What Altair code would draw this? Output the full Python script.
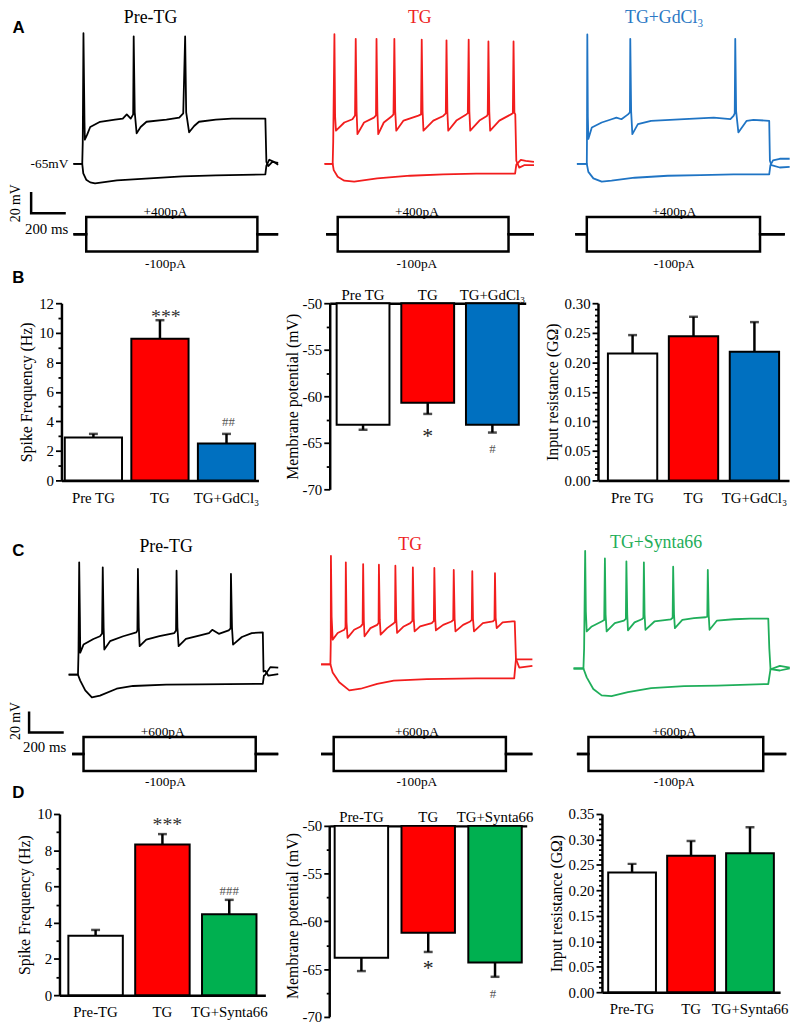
import altair as alt
import pandas as pd

FONT = "Liberation Serif"
SANS = "Liberation Sans"

# ---------------- membrane-potential traces (time: ms from step onset, voltage: mV) ----------------
# Row A (+400 pA / -100 pA)
A1_dep_t = [-51, 0, 3, 7, 13, 15, 29, 46, 103, 189, 234, 257, 280, 294, 297, 303, 314, 337, 371, 486,
            560, 583, 594, 600, 617, 646, 674, 771, 863, 977, 1057, 1063, 1074, 1097, 1131]
A1_dep_v = [-65, -65, -44, 59, -25, -42, -37, -30, -25, -23, -22, -18, -22, -18, 56, -16, -36, -30, -25, -23,
            -21, -17, 56, -16, -35, -29, -25, -23, -22, -22, -22, -63, -67, -63, -64]
A1_hyp_t = [-51, 0, 6, 23, 46, 74, 200, 389, 577, 771, 1057, 1063, 1080, 1103, 1131]
A1_hyp_v = [-65, -65, -74, -80, -82.5, -83.4, -80.6, -78.7, -76.9, -75.9, -75, -66.6, -61, -62.8, -65.7]

A2_dep_t = [-47, 0, 3, 10, 14, 19, 67, 114, 129, 133, 138, 143, 181, 238, 250, 253, 258, 263, 295, 343,
            351, 356, 361, 367, 409, 495, 510, 514, 519, 524, 581, 638, 653, 657, 662, 667, 714, 771, 780, 785,
            789, 794, 847, 890, 895, 899, 904, 909, 962, 1029, 1040, 1044, 1049, 1054, 1060, 1077, 1105, 1162]
A2_dep_v = [-65, -65, -44, 58, -20, -33.5, -25.7, -22.6, -19, 53.7, -15, -36.7, -25.7, -21.1, -19, 53.7, -15, -36.7, -25.7, -19.5,
            -18, 53.7, -15, -33.5, -23.9, -19.2, -18, 53, -15, -33.5, -23.9, -19.5, -17, 52.2, -15, -33.5, -23.9, -18, -17, 53,
            -15, -33.5, -23.9, -19.5, -18, 51.2, -15, -33.5, -23.9, -18, -17, 51.2, -16.4, -18, -62, -68.5, -66.2, -66.2]
A2_hyp_t = [-47, 0, 6, 29, 67, 124, 257, 447, 638, 829, 1053, 1060, 1086, 1114, 1162]
A2_hyp_v = [-65, -65, -70.9, -77.2, -80.9, -81.8, -78.7, -76.2, -75, -74.1, -74.1, -65.6, -61.1, -62.1, -63.1]

A3_dep_t = [-57, 0, 1, 3, 6, 9, 29, 86, 143, 171, 200, 238, 249, 251, 256, 263, 295, 371, 562, 733,
            829, 847, 854, 857, 862, 875, 923, 962, 1053, 1057, 1066, 1114, 1171]
A3_dep_v = [-65, -65, -44, 57.8, -20, -41.3, -30.4, -25.7, -22.6, -21.1, -22.6, -18, -16, 53.7, -15, -36.7, -27.3, -24.1, -22.6, -21.1,
            -22.6, -19.5, -17, 53.7, -15, -35.1, -24.1, -23.2, -24.1, -62, -66.2, -68.4, -67.8]
A3_hyp_t = [-57, 0, 9, 38, 86, 143, 276, 467, 657, 847, 1053, 1060, 1075, 1114, 1171]
A3_hyp_v = [-65, -65, -72.5, -78.7, -81.8, -80.9, -78.1, -76.2, -75.6, -75, -75, -66.2, -61.6, -60.1, -60.1]

# Row C (+600 pA / -100 pA)
C1_dep_t = [-54, 0, 3, 7, 11, 13, 32, 89, 127, 139, 143, 148, 152, 185, 261, 337, 343, 346, 351, 356,
            394, 470, 556, 566, 569, 574, 581, 623, 699, 756, 775, 813, 870, 881, 883, 889, 895, 946, 1003, 1067,
            1071, 1081, 1099, 1156]
C1_dep_v = [-65, -65, -44, 41.6, -10, -44.1, -36.4, -31.1, -28.5, -26, 36.9, -20, -41.1, -33.2, -28.5, -24.8, -23, 35.3, -20, -37.9,
            -31.7, -28.5, -25.5, -23, 33.7, -20, -37.9, -31.1, -28, -25.5, -22.4, -26.2, -22.9, -21, 30.7, -20, -36.4, -29.2, -25.5, -24.8,
            -62, -61.3, -65.9, -64.4]
C1_hyp_t = [-54, 0, 13, 42, 80, 127, 223, 318, 509, 699, 1067, 1073, 1081, 1110, 1156]
C1_hyp_v = [-65, -65, -70.6, -79.9, -86.4, -84.8, -78.3, -75.7, -74.5, -74.2, -73.7, -66, -65, -57.8, -58.3]

C2_dep_t = [-54, 0, 2, 3, 7, 13, 42, 80, 87, 89, 93, 99, 137, 175, 186, 189, 193, 197, 231, 270,
            278, 280, 285, 290, 327, 366, 373, 375, 380, 385, 423, 461, 473, 476, 481, 486, 518, 585, 597, 600,
            605, 609, 651, 699, 709, 712, 717, 722, 766, 807, 816, 819, 823, 829, 880, 937, 947, 950, 954, 960,
            994, 1051, 1064, 1071, 1090, 1166]
C2_dep_v = [-55.1, -55.1, -35, 47.8, -10, -31.7, -25.4, -22.4, -20, 41.6, -15, -30.1, -22.4, -19.2, -17, 40, -14, -28.5, -20.8, -17.7,
            -16, 39.3, -13, -27, -20.8, -16.1, -15, 38.4, -12, -25.4, -19.2, -16.1, -14, 36.9, -12, -23.9, -19.2, -16.1, -14, 36.3,
            -12, -22.9, -17.7, -14.5, -13, 34.4, -12, -23.9, -17.7, -14.5, -13, 33.2, -12, -23.9, -16.1, -14.5, -13, 31.3, -11, -20.8,
            -15.4, -14.5, -14.5, -50, -58.2, -56.6]
C2_hyp_t = [-54, 0, 13, 51, 109, 175, 270, 366, 556, 842, 1061, 1071, 1166]
C2_hyp_v = [-55.1, -55.1, -62.8, -72.2, -79.9, -78.3, -73.7, -70.6, -69.1, -68.5, -68.5, -50.4, -50.4]

C3_dep_t = [-57, 0, 4, 10, 14, 19, 48, 105, 120, 124, 128, 134, 181, 234, 245, 248, 253, 257, 295, 337,
            346, 349, 353, 358, 410, 505, 515, 518, 523, 528, 571, 638, 705, 715, 718, 723, 728, 771, 867, 962,
            1067, 1073, 1080, 1134, 1191]
C3_dep_v = [-59.1, -59.1, -40, 52.4, -5, -23.9, -19.2, -14.5, -13, 45.3, -8, -23.9, -16.1, -13.6, -12, 42.5, -8, -22.9, -15.4, -12.4,
            -11, 41.6, -8, -22.4, -14.5, -12.4, -11, 37.5, -8, -20.8, -13, -11.4, -10.5, -10, 34.4, -8, -22.4, -13.6, -12.4, -11.7,
            -11.7, -40, -59.8, -61, -59.1]
C3_hyp_t = [-57, 0, 19, 57, 105, 162, 257, 391, 581, 771, 1067, 1080, 1134, 1191]
C3_hyp_v = [-59.1, -59.1, -67.5, -78.5, -84.6, -85.3, -81.5, -77.8, -75.9, -75.3, -73.8, -59.8, -56.6, -58.2]

# current-step protocol: line start, step on, step off, line end (ms); step amplitudes (pA)
A1_stim_t = [-51, 23, 1011, 1131]
A2_stim_t = [-38, 29, 1015, 1162]
A3_stim_t = [-67, 0, 1000, 1143]
C1_stim_t = [-34, 32, 1026, 1156]
C2_stim_t = [-54, 19, 1013, 1166]
C3_stim_t = [-38, 29, 1038, 1171]
STEPS_A = [400, -100]
STEPS_C = [600, -100]
SCALEBAR_MS = 200
SCALEBAR_MV = 20

# ---------------- summary bar data ----------------
groups_B = ["Pre TG", "TG", "TG+GdCl₃"]
spike_B = [2.9, 9.6, 2.5]
spike_B_err = [0.25, 1.25, 0.65]
spike_B_sig = ["", "***", "##"]
vm_B = [-63.05, -60.7, -63.05]
vm_B_err = [0.55, 1.2, 0.85]
vm_B_sig = ["", "*", "#"]
rin_B = [0.215, 0.244, 0.218]
rin_B_err = [0.031, 0.033, 0.05]

groups_D = ["Pre-TG", "TG", "TG+Synta66"]
spike_D = [3.28, 8.32, 4.46]
spike_D_err = [0.32, 0.57, 0.8]
spike_D_sig = ["", "***", "###"]
vm_D = [-63.8, -61.2, -64.3]
vm_D_err = [1.4, 2.0, 1.5]
vm_D_sig = ["", "*", "#"]
rin_D = [0.235, 0.268, 0.273]
rin_D_err = [0.017, 0.029, 0.051]

fills_B = ["#ffffff", "#ff0000", "#0070c0"]
fills_D = ["#ffffff", "#ff0000", "#00b050"]
TRACE_BLACK = "#000000"
TRACE_RED = "#f21d1d"
TRACE_BLUE = "#1f74c4"
TRACE_GREEN = "#1fae5a"
TITLE_RED = "#ee2222"
TITLE_BLUE = "#2a78c4"
TITLE_GREEN = "#22ad58"

# ---------------- layout (page pixels) ----------------
PX_MS = 0.175
PX_MV = 1.065
COLS = [(8, 300), (300, 560), (560, 792)]
A_TOP, A_H, A_BASE = 8, 276, 162.3
C_TOP, C_H, C_BASE = 503, 301, 672.3
A_X0 = [82, 335, 591.7]
C_X0 = [77.7, 332.7, 588.3]
A_STIM_Y = (250.7, 233.3, 216.0)
C_STIM_Y = (769.5, 752.5, 735.3)

ONE = pd.DataFrame({"k": [0]})


def text_mark(txt, x, y, size=15, color="black", font=FONT, weight="normal",
              align="center", baseline="middle", angle=0):
    kw = dict(text=txt, fontSize=size, color=color, font=font, fontWeight=weight,
              align=align, baseline=baseline)
    if angle:
        kw["angle"] = angle
    return alt.Chart(ONE).mark_text(**kw).encode(x=alt.value(x), y=alt.value(y))


def trace_panel(col, x0, top, height, base, dep_t, dep_v, hyp_t, hyp_v, stim_t, steps,
                stim_y, color, texts, scalebar=None):
    left, right = COLS[col]
    width = right - left
    tdom = [(left - x0) / PX_MS, (right - x0) / PX_MS]
    vdom = [-65 - (top + height - base) / PX_MV, -65 + (base - top) / PX_MV]
    xe = alt.X("t:Q", scale=alt.Scale(domain=tdom, nice=False, zero=False), axis=None)
    ye = alt.Y("v:Q", scale=alt.Scale(domain=vdom, nice=False, zero=False), axis=None)
    df = pd.DataFrame({
        "t": list(dep_t) + list(hyp_t),
        "v": list(dep_v) + list(hyp_v),
        "s": ["dep"] * len(dep_t) + ["hyp"] * len(hyp_t),
        "i": list(range(len(dep_t))) + list(range(len(hyp_t))),
    })
    layers = [alt.Chart(df).mark_line(color=color, strokeWidth=1.8, strokeJoin="round").encode(
        x=xe, y=ye, detail="s:N", order="i:Q")]
    rows = []
    for k, amp in enumerate(steps):
        pts = [(stim_t[0], 0), (stim_t[1], 0), (stim_t[1], amp), (stim_t[2], amp),
               (stim_t[2], 0), (stim_t[3], 0)]
        rows += [{"t": a, "a": b, "s": k, "i": j} for j, (a, b) in enumerate(pts)]
    sdf = pd.DataFrame(rows)
    rng = [p - top for p in stim_y]
    layers.append(alt.Chart(sdf).mark_line(color="black", strokeWidth=2.5).encode(
        x=xe,
        y=alt.Y("a:Q", scale=alt.Scale(domain=[min(steps), 0, max(steps)], range=rng,
                                       nice=False, zero=False), axis=None),
        detail="s:N", order="i:Q"))
    if scalebar:
        bt, bv = scalebar
        bdf = pd.DataFrame({"t": [bt, bt, bt + SCALEBAR_MS],
                            "v": [bv + SCALEBAR_MV, bv, bv], "i": [0, 1, 2]})
        layers.append(alt.Chart(bdf).mark_line(color="black", strokeWidth=2.5).encode(
            x=xe, y=ye, order="i:Q"))
    for txt, px, py, kw in texts:
        layers.append(text_mark(txt, px - left, py - top, **kw))
    return alt.layer(*layers).resolve_scale(y="independent").properties(width=width, height=height)


def yaxis(values, major, label_expr, title, title_pad, domain=True):
    return alt.Axis(values=values, labelExpr=label_expr,
                    tickSize={"condition": {"test": major, "value": 6}, "value": 3.5},
                    tickWidth=1.8, tickColor="black", domain=domain, domainWidth=2.5,
                    domainColor="black", labelFont=FONT, labelFontSize=15, labelColor="black",
                    labelPadding=2, labelOverlap=False, labelFlush=False, grid=False,
                    title=title, titleFont=FONT, titleFontSize=16, titleFontWeight="normal",
                    titleColor="black", titlePadding=title_pad)


def xaxis(orient, offset=0):
    kw = dict(title=None, orient=orient, labelAngle=0, ticks=False, tickSize=0,
              domainWidth=2.5, domainColor="black", labelFont=FONT, labelFontSize=15,
              labelColor="black", labelPadding=10 if orient == "bottom" else 1,
              labelOverlap=False, grid=False)
    if offset:
        kw["offset"] = offset
    return alt.Axis(**kw)


def bar_panel(groups, vals, errs, fills, width, height, ydom, yvals, major, label_expr,
              title, title_pad, pi, po, sigs=None, sig_style=None, hanging=False, top_offset=0):
    sign = -1 if hanging else 1
    df = pd.DataFrame({"g": groups, "v": vals,
                       "end": [v + sign * e for v, e in zip(vals, errs)], "c": fills})
    xe = alt.X("g:N", sort=groups, scale=alt.Scale(paddingInner=pi, paddingOuter=po),
               axis=xaxis("top" if hanging else "bottom", -top_offset))

    def ye(field):
        return alt.Y(field, scale=alt.Scale(domain=ydom, nice=False, zero=False),
                     axis=yaxis(yvals, major, label_expr, title, title_pad, domain=not top_offset))

    base = alt.Chart(df)
    enc = dict(x=xe, y=ye("v:Q"), fill=alt.Fill("c:N", scale=None))
    if hanging:
        enc["y2"] = alt.datum(-50)
    layers = [base.mark_bar(stroke="black", strokeWidth=2).encode(**enc),
              base.mark_rule(color="black", strokeWidth=2.5).encode(x=xe, y=ye("v:Q"), y2="end:Q"),
              base.mark_tick(color="black", thickness=2.5, size=9).encode(x=xe, y=ye("end:Q"))]
    if top_offset:
        adf = pd.DataFrame({"a": [ydom[0]], "b": [-50]})
        layers.append(alt.Chart(adf).mark_rule(color="black", strokeWidth=2.5).encode(
            x=alt.value(0), y=ye("a:Q"), y2="b:Q"))
    if sigs:
        for i, s in enumerate(sigs):
            if not s:
                continue
            size, color, dx, dy = sig_style[i]
            sdf = df.iloc[[i]]
            layers.append(alt.Chart(sdf).mark_text(
                text=s, fontSize=size, color=color, font=FONT, dx=dx, dy=dy,
                baseline="alphabetic", align="center").encode(x=xe, y=ye("end:Q")))
    return alt.layer(*layers).properties(width=width, height=height)


def spacer(w, h=10):
    return alt.Chart(ONE).mark_point(opacity=0).encode(
        x=alt.X("k:Q", axis=None), y=alt.Y("k:Q", axis=None)).properties(width=w, height=h)


LETTER = dict(size=17, font=SANS, weight="bold")
SMALL = dict(size=13.5)
TITLE_TOP = dict(size=18, baseline="top")

# ---------------- row A ----------------
A1 = trace_panel(0, A_X0[0], A_TOP, A_H, A_BASE, A1_dep_t, A1_dep_v, A1_hyp_t, A1_hyp_v,
                 A1_stim_t, STEPS_A, A_STIM_Y, TRACE_BLACK,
                 [("A", 17.8, 25, LETTER),
                  ("Pre-TG", 151, 6, TITLE_TOP),
                  ("-65mV", 68, 162.3, dict(size=13.5, align="right")),
                  ("20 mV", 15.5, 202, dict(size=14, angle=270)),
                  ("200 ms", 46, 228, dict(size=15)),
                  ("+400pA", 166, 211, SMALL),
                  ("-100pA", 166, 263, SMALL),
                  ("B", 17.5, 277.5, LETTER)],
                 scalebar=(-295, -111.7))
A2 = trace_panel(1, A_X0[1], A_TOP, A_H, A_BASE, A2_dep_t, A2_dep_v, A2_hyp_t, A2_hyp_v,
                 A2_stim_t, STEPS_A, A_STIM_Y, TRACE_RED,
                 [("TG", 423, 6, dict(size=18, baseline="top", color=TITLE_RED)),
                  ("+400pA", 420, 211, SMALL),
                  ("-100pA", 420, 263, SMALL)])
A3 = trace_panel(2, A_X0[2], A_TOP, A_H, A_BASE, A3_dep_t, A3_dep_v, A3_hyp_t, A3_hyp_v,
                 A3_stim_t, STEPS_A, A_STIM_Y, TRACE_BLUE,
                 [("TG+GdCl₃", 670, 6, dict(size=18, baseline="top", color=TITLE_BLUE)),
                  ("+400pA", 680, 211, SMALL),
                  ("-100pA", 680, 263, SMALL)])
rowA = alt.hconcat(A1, A2, A3, spacing=0, bounds="flush")

# ---------------- row B ----------------
B1 = bar_panel(groups_B, spike_B, spike_B_err, fills_B, 199, 179, [0, 12], list(range(0, 13)),
               "datum.value % 2 === 0", "datum.value % 2 === 0 ? '' + datum.value : ''",
               "Spike Frequency (Hz)", 4, 0.14, 0.05, sigs=spike_B_sig,
               sig_style=[None, (20, "#333333", 6, 3), (13, "#555555", 2, -7.5)])
B2 = bar_panel(groups_B, vm_B, vm_B_err, fills_B, 198, 188, [-70, -50],
               [-70 + 2.5 * k for k in range(9)],
               "datum.value % 5 === 0", "datum.value % 5 === 0 ? '' + datum.value : ''",
               "Membrane potential (mV)", 2, 0.183, 0.107, sigs=vm_B_sig,
               sig_style=[None, (22, "#222222", 0, 29), (13, "#555555", 0, 21)], hanging=True)
B3 = bar_panel(groups_B, rin_B, rin_B_err, fills_B, 193, 179, [0, 0.30],
               [round(0.01 * k, 2) for k in range(31)],
               "round(datum.value * 100) % 5 === 0",
               "round(datum.value * 100) % 5 === 0 ? format(datum.value, '.2f') : ''",
               "Input resistance (GΩ)", 4, 0.19, 0.163)
rowB = alt.hconcat(spacer(53), B1, spacer(72), B2, spacer(73), B3, spacing=0, bounds="flush")

# ---------------- row C ----------------
C1 = trace_panel(0, C_X0[0], C_TOP, C_H, C_BASE, C1_dep_t, C1_dep_v, C1_hyp_t, C1_hyp_v,
                 C1_stim_t, STEPS_C, C_STIM_Y, TRACE_BLACK,
                 [("C", 17.5, 547.5, LETTER),
                  ("Pre-TG", 166.7, 548, dict(size=18, baseline="alphabetic")),
                  ("20 mV", 15.5, 719, dict(size=14, angle=270)),
                  ("200 ms", 44, 745, dict(size=15)),
                  ("+600pA", 163.3, 730, SMALL),
                  ("-100pA", 166, 781, SMALL),
                  ("D", 17.5, 792, LETTER)],
                 scalebar=(-282.3, -119.8))
C2 = trace_panel(1, C_X0[1], C_TOP, C_H, C_BASE, C2_dep_t, C2_dep_v, C2_hyp_t, C2_hyp_v,
                 C2_stim_t, STEPS_C, C_STIM_Y, TRACE_RED,
                 [("TG", 413.3, 546, dict(size=18, baseline="alphabetic", color=TITLE_RED)),
                  ("+600pA", 420, 730, SMALL),
                  ("-100pA", 420, 781, SMALL)])
C3 = trace_panel(2, C_X0[2], C_TOP, C_H, C_BASE, C3_dep_t, C3_dep_v, C3_hyp_t, C3_hyp_v,
                 C3_stim_t, STEPS_C, C_STIM_Y, TRACE_GREEN,
                 [("TG+Synta66", 661.7, 544.5, dict(size=18, baseline="alphabetic", color=TITLE_GREEN)),
                  ("+600pA", 680, 730, SMALL),
                  ("-100pA", 680, 781, SMALL)])
rowC = alt.hconcat(C1, C2, C3, spacing=0, bounds="flush")

# ---------------- row D ----------------
D1 = bar_panel(groups_D, spike_D, spike_D_err, fills_D, 208, 183, [0, 10], list(range(0, 11)),
               "datum.value % 2 === 0", "datum.value % 2 === 0 ? '' + datum.value : ''",
               "Spike Frequency (Hz)", 4, 0.185, 0.133, sigs=spike_D_sig,
               sig_style=[None, (20, "#333333", 5, -3), (13, "#555555", 0, -5)])
D2_top = -50 + 12 / 9.65
D2 = bar_panel(groups_D, vm_D, vm_D_err, fills_D, 199, 205, [-70, D2_top],
               [-70 + 2.5 * k for k in range(9)],
               "datum.value % 5 === 0", "datum.value % 5 === 0 ? '' + datum.value : ''",
               "Membrane potential (mV)", 2, 0.2, 0.074, sigs=vm_D_sig,
               sig_style=[None, (22, "#222222", 0, 23), (13, "#555555", -2, 21)],
               hanging=True, top_offset=12)
D3 = bar_panel(groups_D, rin_D, rin_D_err, fills_D, 180, 180, [0, 0.35],
               [round(0.01 * k, 2) for k in range(36)],
               "round(datum.value * 100) % 5 === 0",
               "round(datum.value * 100) % 5 === 0 ? format(datum.value, '.2f') : ''",
               "Input resistance (GΩ)", 4, 0.19, 0.106)
rowD = alt.hconcat(spacer(51), D1, spacer(65), D2, spacer(76), D3, spacing=0, bounds="flush")

chart = (alt.vconcat(rowA, rowB, rowC, rowD, spacing=0, bounds="full")
         .properties(padding={"top": -5, "left": 0, "right": 0, "bottom": 0}, background="white")
         .configure(font=FONT)
         .configure_axis(labelFont=FONT, titleFont=FONT)
         .configure_text(font=FONT)
         .configure_view(stroke="transparent"))

chart.save("out.html", embed_options={"renderer": "svg", "actions": False})
